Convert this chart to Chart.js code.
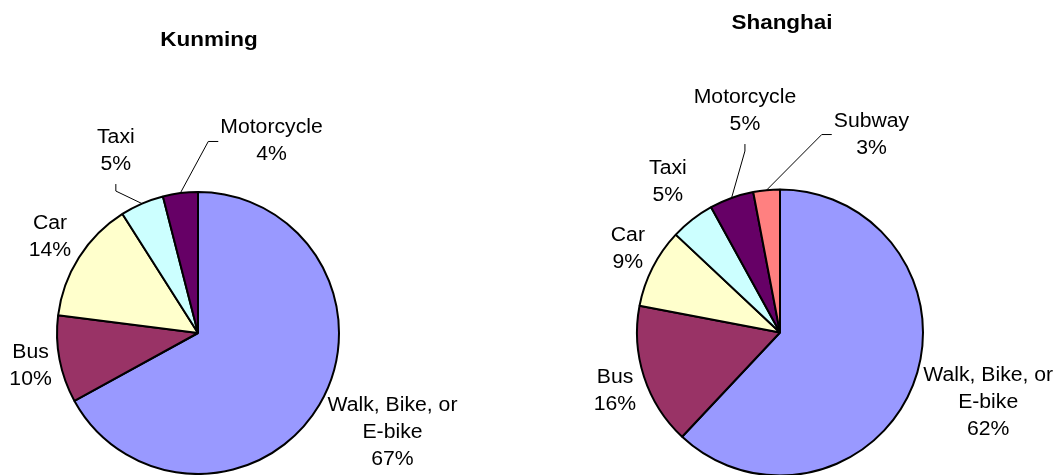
<!DOCTYPE html>
<html>
<head>
<meta charset="utf-8">
<script src="https://cdn.jsdelivr.net/npm/chart.js@4/dist/chart.umd.min.js"></script>
<style>
  html, body { margin: 0; padding: 0; background: #ffffff; }
  #wrap { position: relative; width: 1057px; height: 475px; overflow: hidden; background: #fff; }
  canvas { position: absolute; top: 0; }
</style>
</head>
<body>
<div id="wrap">
  <canvas id="c1" width="528" height="475" style="left:0px"></canvas>
  <canvas id="c2" width="529" height="475" style="left:528px"></canvas>
</div>
<script>
// ---- Data ----
const titleKunming = 'Kunming';
const categoriesKunming = ['Walk, Bike, or E-bike', 'Bus', 'Car', 'Taxi', 'Motorcycle'];
const valuesKunming = [67, 10, 14, 5, 4];

const titleShanghai = 'Shanghai';
const categoriesShanghai = ['Walk, Bike, or E-bike', 'Bus', 'Car', 'Taxi', 'Motorcycle', 'Subway'];
const valuesShanghai = [62, 16, 9, 5, 5, 3];

const modeColors = {
  'Walk, Bike, or E-bike': '#9999FF',
  'Bus': '#993366',
  'Car': '#FFFFCC',
  'Taxi': '#CCFFFF',
  'Motorcycle': '#660066',
  'Subway': '#FF8080'
};

const FONT_FAMILY = '"Liberation Sans", Arial, Helvetica, sans-serif';
const LABEL_SIZE = 20, LABEL_SX = 1.06, LINE_H = 27;
const TITLE_SIZE = 21, TITLE_SX = 1.07;

function drawScaledText(ctx, text, x, y, sx) {
  ctx.save();
  ctx.translate(x, y);
  ctx.scale(sx, 1);
  ctx.fillText(text, 0, 0);
  ctx.restore();
}

function wrapText(ctx, text, maxW, sx) {
  const words = text.split(' ');
  const lines = [];
  let cur = '';
  words.forEach(w => {
    const test = cur ? cur + ' ' + w : w;
    if (cur && ctx.measureText(test).width * sx > maxW) { lines.push(cur); cur = w; }
    else cur = test;
  });
  if (cur) lines.push(cur);
  return lines;
}

const pieLabels = {
  id: 'pieLabels',
  afterDatasetsDraw(chart, args, opts) {
    const ctx = chart.ctx;
    const meta = chart.getDatasetMeta(0);
    const ds = chart.data.datasets[0];
    ctx.save();
    ctx.fillStyle = '#000';
    ctx.textAlign = 'center';
    ctx.textBaseline = 'middle';
    // title
    ctx.font = 'bold ' + TITLE_SIZE + 'px ' + FONT_FAMILY;
    drawScaledText(ctx, opts.title, opts.titleX, opts.titleY, TITLE_SX);

    ctx.font = LABEL_SIZE + 'px ' + FONT_FAMILY;
    meta.data.forEach((arc, i) => {
      const p = arc.getProps(['x', 'y', 'startAngle', 'endAngle', 'outerRadius'], true);
      const r = p.outerRadius;
      const mid = (p.startAngle + p.endAngle) / 2;
      const lines = wrapText(ctx, chart.data.labels[i], 140, LABEL_SX).concat([ds.data[i] + '%']);
      const w = Math.max(...lines.map(l => ctx.measureText(l).width * LABEL_SX));
      const h = lines.length * LINE_H;
      const ov = (opts.overrides && opts.overrides[i]) || {};
      let cx, cy;
      if (ov.angle !== undefined) {
        const a = (ov.angle - 90) * Math.PI / 180;
        cx = p.x + Math.cos(a) * ov.dist * r;
        cy = p.y + Math.sin(a) * ov.dist * r;
      } else {
        const gap = ov.gap !== undefined ? ov.gap : opts.gap;
        const dx = Math.cos(mid), dy = Math.sin(mid);
        const tx = Math.abs(dx) > 1e-6 ? (w / 2) / Math.abs(dx) : Infinity;
        const ty = Math.abs(dy) > 1e-6 ? (h / 2) / Math.abs(dy) : Infinity;
        const t = Math.min(tx, ty);
        cx = p.x + dx * (r + gap + t);
        cy = p.y + dy * (r + gap + t);
      }
      if (ov.leader) {
        const px = p.x + Math.cos(mid) * r, py = p.y + Math.sin(mid) * r;
        ctx.save();
        ctx.strokeStyle = '#000';
        ctx.lineWidth = 1;
        ctx.beginPath();
        if (ov.leader === 'bottom') {
          const sx = cx, sy = cy + h / 2 + 6;
          ctx.moveTo(sx, sy); ctx.lineTo(sx, sy + 7);
        } else {
          const sx = cx - w / 2 - 2, sy = cy;
          ctx.moveTo(sx, sy); ctx.lineTo(sx - 10, sy);
        }
        ctx.lineTo(px, py);
        ctx.stroke();
        ctx.restore();
      }
      lines.forEach((ln, k) => {
        drawScaledText(ctx, ln, cx, cy - h / 2 + LINE_H * (k + 0.5), LABEL_SX);
      });
    });
    ctx.restore();
  }
};

function makePie(canvasId, categories, values, radius, padding, labelOpts) {
  return new Chart(document.getElementById(canvasId), {
    type: 'pie',
    data: {
      labels: categories,
      datasets: [{
        data: values,
        backgroundColor: categories.map(c => modeColors[c]),
        borderColor: '#000000',
        borderWidth: 2
      }]
    },
    options: {
      responsive: false,
      animation: false,
      events: [],
      radius: radius,
      layout: { padding: padding },
      plugins: {
        legend: { display: false },
        title: { display: false },
        tooltip: { enabled: false },
        pieLabels: labelOpts
      }
    },
    plugins: [pieLabels]
  });
}

// Label placement: angle (clockwise from 12 o'clock, degrees) and distance (in radii) of label centre
makePie('c1', categoriesKunming, valuesKunming, 141,
  { left: 0, right: 132, top: 191, bottom: 0 },
  {
    title: titleKunming, titleX: 209, titleY: 40, gap: 10,
    overrides: {
      0: { angle: 117.0, dist: 1.548 },
      1: { angle: 258.7, dist: 1.211 },
      2: { angle: 303.1, dist: 1.253 },
      3: { angle: 335.7, dist: 1.416, leader: 'bottom' },
      4: { angle: 21.0, dist: 1.455, leader: 'left' }
    }
  });

makePie('c2', categoriesShanghai, valuesShanghai, 143,
  { left: 0, right: 25, top: 190, bottom: 0 },
  {
    title: titleShanghai, titleX: 254, titleY: 23, gap: 11,
    overrides: {
      0: { angle: 108.6, dist: 1.536 },
      1: { angle: 250.5, dist: 1.224 },
      2: { angle: 298.9, dist: 1.215 },
      3: { angle: 323.4, dist: 1.315 },
      4: { angle: 351.0, dist: 1.568, leader: 'bottom' },
      5: { angle: 24.8, dist: 1.525, leader: 'left' }
    }
  });
</script>
</body>
</html>
